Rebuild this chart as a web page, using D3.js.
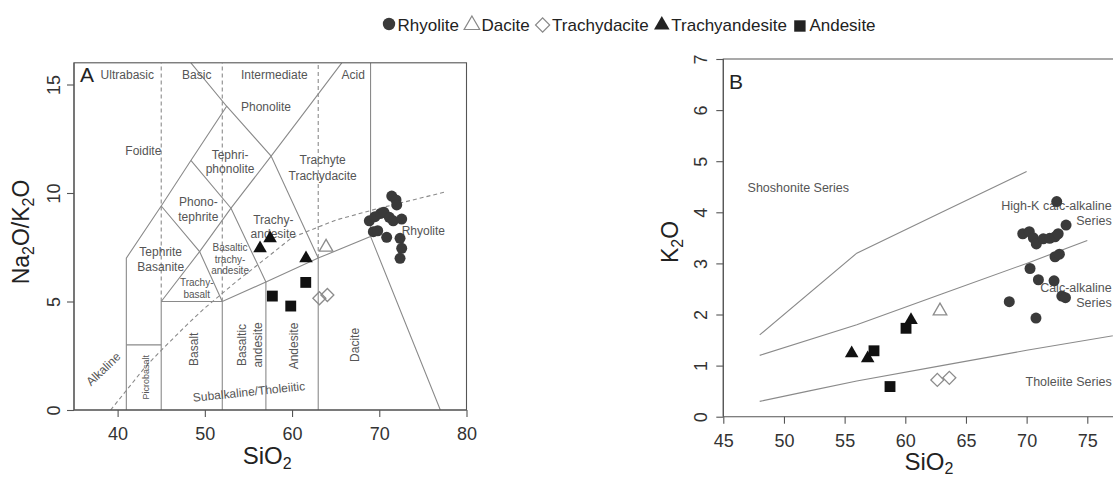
<!DOCTYPE html>
<html><head><meta charset="utf-8">
<script src="https://cdn.jsdelivr.net/npm/d3@7"></script>
<style>
body{margin:0;background:#fff;}
svg{display:block;font-family:"Liberation Sans",Arial,Helvetica,sans-serif;}
</style></head><body>
<svg id="chart" width="1113" height="478"></svg>
<script>
// ---------------- DATA ----------------
// Panel A (TAS-type diagram): [SiO2, Na2O/K2O]
const tasRhyolite = [[71.43,9.86],[71.92,9.68],[72.0,9.45],[68.86,8.72],[69.51,8.91],[70.16,9.06],[70.54,9.11],[71.15,8.88],[71.6,8.72],[72.57,8.8],[69.32,8.22],[69.82,8.26],[70.85,7.96],[72.38,7.91],[72.57,7.45],[72.38,6.99]];
const tasDacite = [[63.9,7.5]];
const tasTrachydacite = [[63.13,5.15],[64.05,5.3]];
const tasTrachyandesite = [[56.33,7.45],[57.48,7.91],[61.6,6.99]];
const tasAndesite = [[57.74,5.25],[59.85,4.79],[61.57,5.88]];

// Panel B (K2O vs SiO2): [SiO2, K2O]
const kRhyolite = [[72.48,4.21],[73.25,3.75],[69.68,3.58],[70.22,3.62],[70.55,3.5],[70.8,3.38],[71.37,3.48],[71.9,3.49],[72.34,3.52],[72.6,3.58],[72.34,3.13],[72.7,3.18],[70.28,2.9],[70.97,2.68],[72.26,2.66],[72.9,2.36],[73.2,2.33],[68.57,2.25],[70.77,1.93]];
const kDacite = [[62.86,2.07]];
const kTrachydacite = [[62.64,0.72],[63.63,0.76]];
const kTrachyandesite = [[55.58,1.24],[56.9,1.14],[60.47,1.89]];
const kAndesite = [[57.42,1.29],[60.06,1.73],[58.74,0.59]];

// Axis ticks
const tasXTicks = [40,50,60,70,80];
const tasYTicks = [0,5,10,15];
const kXTicks = [45,50,55,60,65,70,75];
const kYTicks = [0,1,2,3,4,5,6,7];

// TAS field boundaries (solid), [SiO2, value]
const tasSolid = [
  [[41,0],[41,7],[45,9.4],[48.4,11.5],[52.5,14],[48.4,16]],
  [[41,3],[45,3]],
  [[45,0],[45,5]],
  [[45,5],[52,5],[57,5.9],[63,7],[69,8],[77,0]],
  [[52,0],[52,5]],
  [[57,0],[57,5.9]],
  [[63,0],[63,7]],
  [[45,9.4],[49.4,7.3],[52,5]],
  [[45,5],[49.4,7.3],[53,9.3],[57.6,11.7],[61,13.5],[65.7,16]],
  [[48.4,11.5],[53,9.3],[57,5.9]],
  [[52.5,14],[57.6,11.7],[63,7]],
  [[69,8],[69,16]]
];
// TAS dashed lines
const tasDashed = [
  [[45,5],[45,16]],
  [[52,5],[52,16]],
  [[63,7],[63,16]],
  [[39.2,0],[40,0.4],[43.2,2],[45,2.75],[48,3.95],[50,4.7],[53.7,5.95],[55,6.35],[60,7.95],[65,8.75],[70,9.3],[77.6,10.05]]
];
// TAS labels: [text, SiO2, value, kind]
const tasLabels = [
  ["Ultrabasic",41.11,15.47,"field"],["Basic",49.07,15.47,"field"],["Intermediate",57.97,15.47,"field"],["Acid",67.02,15.47,"field"],
  ["Phonolite",57.01,13.95,"field"],["Foidite",42.95,11.95,"field"],
  ["Tephri-",52.89,11.75,"field"],["phonolite",52.89,11.12,"field"],
  ["Trachyte",63.51,11.52,"field"],["Trachydacite",63.51,10.8,"field"],
  ["Phono-",49.25,9.6,"field"],["tephrite",49.25,8.91,"field"],
  ["Trachy-",57.85,8.76,"field"],["andesite",57.85,8.1,"field"],
  ["Rhyolite",75.05,8.26,"field"],
  ["Tephrite",44.94,7.27,"field"],["Basanite",44.94,6.58,"field"],
  ["Basaltic",52.89,7.48,"small"],["trachy-",52.89,6.94,"small"],["andesite",52.89,6.41,"small"],
  ["Trachy-",49.07,5.88,"small"],["basalt",49.07,5.3,"small"],
  ["Picrobasalt",43.25,1.51,"vtiny"],["Basalt",48.68,2.8,"vert"],
  ["Basaltic",54.23,3.0,"vert"],["andesite",56.02,3.0,"vert"],
  ["Andesite",60.22,2.95,"vert"],["Dacite",67.22,3.0,"vert"],
  ["Alkaline",38.36,1.89,"diag"],["Subalkaline/Tholeiitic",55.06,0.84,"tilt"]
];
// K2O series boundaries
const kLines = [
  [[48,1.6],[56,3.2],[63,4.0],[70,4.8]],
  [[48,1.2],[56,1.8],[63,2.4],[70,3.0],[75,3.45]],
  [[48,0.3],[52,0.5],[56,0.7],[63,1.0],[70,1.3],[78.5,1.64]]
];
// K2O labels: [text, SiO2, K2O, anchor]
const kLabels = [
  ["Shoshonite Series",51.18,4.49,"middle"],
  ["High-K calc-alkaline",77.01,4.13,"end"],["Series",77.01,3.83,"end"],
  ["Calc-alkaline",77.01,2.52,"end"],["Series",77.01,2.23,"end"],
  ["Tholeiite Series",77.01,0.685,"end"]
];
const legendItems = [["Rhyolite","circle"],["Dacite","triOpen"],["Trachydacite","diamond"],["Trachyandesite","triFilled"],["Andesite","square"]];

// ---------------- DRAW ----------------
const svg = d3.select("#chart");
const LINE = "#8a8a8a", AXIS = "#555", LABEL = "#555", TICKTXT = "#333";

function marker(g, type, cx, cy){
  if(type==="circle"){
    return g.append("circle").attr("cx",cx).attr("cy",cy).attr("r",5.5).attr("fill","#3a3a3a");
  }
  let p;
  if(type==="triOpen"||type==="triFilled"){
    p = g.append("path").attr("d",d3.symbol(d3.symbolTriangle,80)()).attr("transform",`translate(${cx},${cy})`);
  } else if(type==="diamond"){
    p = g.append("path").attr("d",d3.symbol(d3.symbolSquare,84)()).attr("transform",`translate(${cx},${cy}) rotate(45)`);
  } else {
    p = g.append("path").attr("d",d3.symbol(d3.symbolSquare,118)()).attr("transform",`translate(${cx},${cy})`);
  }
  if(type==="triOpen"||type==="diamond") p.attr("fill","none").attr("stroke","#8c8c8c").attr("stroke-width",1.3);
  else p.attr("fill","#111");
  return p;
}

// ---- Panel A ----
const xA = d3.scaleLinear().domain([35,80]).range([74,466.5]);
const yA = d3.scaleLinear().domain([0,16]).range([410,62.8]);
const gA = svg.append("g");
svg.append("clipPath").attr("id","clipA").append("rect")
  .attr("x",xA(35)).attr("y",yA(16)).attr("width",xA(80)-xA(35)).attr("height",yA(0)-yA(16));
const pA = gA.append("g").attr("clip-path","url(#clipA)");
const lineA = d3.line().x(d=>xA(d[0])).y(d=>yA(d[1]));
pA.selectAll("path.s").data(tasSolid).join("path").attr("class","s").attr("d",lineA)
  .attr("fill","none").attr("stroke",LINE).attr("stroke-width",1.1);
pA.selectAll("path.d").data(tasDashed).join("path").attr("class","d").attr("d",lineA)
  .attr("fill","none").attr("stroke",LINE).attr("stroke-width",1.1).attr("stroke-dasharray","4,3");

const kindStyle = {field:{s:12,r:0},small:{s:10,r:0},vert:{s:12,r:-90},vtiny:{s:9,r:-90},diag:{s:12,r:-44},tilt:{s:12,r:-6}};
gA.selectAll("text.lab").data(tasLabels).join("text").attr("class","lab")
  .attr("transform",d=>`translate(${xA(d[1])},${yA(d[2])}) rotate(${kindStyle[d[3]].r})`)
  .attr("text-anchor","middle").attr("dy","0.35em")
  .attr("font-size",d=>kindStyle[d[3]].s).attr("fill",LABEL).text(d=>d[0]);

gA.append("rect").attr("x",xA(35)).attr("y",yA(16)).attr("width",xA(80)-xA(35)).attr("height",yA(0)-yA(16))
  .attr("fill","none").attr("stroke",AXIS).attr("stroke-width",1.1);

const fmt = d3.format("d");
function styleAxis(g, rotate, off){
  g.select(".domain").attr("stroke",AXIS).attr("stroke-width",1.1);
  g.selectAll(".tick line").attr("stroke",AXIS).attr("stroke-width",1.1);
  g.selectAll(".tick text").attr("fill",TICKTXT).attr("font-size",18).attr("font-family","Liberation Sans,Arial,sans-serif");
  if(rotate){
    g.selectAll(".tick text").attr("x",0).attr("y",-off).attr("dy",0).attr("text-anchor","middle").attr("transform","rotate(-90)");
  } else {
    g.selectAll(".tick text").attr("y",off).attr("dy",0);
  }
}
const axAx = gA.append("g").attr("transform",`translate(0,${yA(0)})`)
  .call(d3.axisBottom(xA).tickValues(tasXTicks).tickFormat(fmt).tickSize(7).tickSizeOuter(0));
styleAxis(axAx,false,30);
axAx.select(".domain").attr("d",`M${xA(35)},0H${xA(80)}`);
const ayAx = gA.append("g").attr("transform",`translate(${xA(35)},0)`)
  .call(d3.axisLeft(yA).tickValues(tasYTicks).tickFormat(fmt).tickSize(7).tickSizeOuter(0));
styleAxis(ayAx,true,14);
ayAx.select(".domain").attr("d",`M0,${yA(0)}V${yA(16)}`);

// markers A
[[tasRhyolite,"circle"],[tasDacite,"triOpen"],[tasTrachydacite,"diamond"],[tasTrachyandesite,"triFilled"],[tasAndesite,"square"]]
  .forEach(([arr,t])=>arr.forEach(d=>marker(gA,t,xA(d[0]),yA(d[1]))));

gA.append("text").attr("x",80).attr("y",82).attr("font-size",21).attr("fill","#222").text("A");
// axis titles A
const tA = gA.append("text").attr("x",xA(35)+ (xA(80)-xA(35))/2 - 3).attr("y",464).attr("text-anchor","middle").attr("font-size",24).attr("fill","#222");
tA.append("tspan").text("SiO");
tA.append("tspan").attr("font-size",16).attr("dy",5).text("2");
const tAy = gA.append("text").attr("transform","translate(28.5,232) rotate(-90)").attr("text-anchor","middle").attr("font-size",23).attr("fill","#222");
tAy.append("tspan").text("Na");
tAy.append("tspan").attr("font-size",16).attr("dy",5).text("2");
tAy.append("tspan").attr("dy",-5).text("O/K");
tAy.append("tspan").attr("font-size",16).attr("dy",5).text("2");
tAy.append("tspan").attr("dy",-5).text("O");

// ---- Panel B ----
const xB = d3.scaleLinear().domain([45,75]).range([723.3,1087.3]);
const yB = d3.scaleLinear().domain([0,7]).range([416.7,59]);
const gB = svg.append("g");
const lineB = d3.line().x(d=>xB(d[0])).y(d=>yB(d[1]));
gB.selectAll("path.k").data(kLines).join("path").attr("class","k").attr("d",lineB)
  .attr("fill","none").attr("stroke",LINE).attr("stroke-width",1.1);
gB.selectAll("text.lab").data(kLabels).join("text").attr("class","lab")
  .attr("x",d=>xB(d[1])).attr("y",d=>yB(d[2])).attr("dy","0.35em")
  .attr("text-anchor",d=>d[3]).attr("font-size",12.5).attr("fill",LABEL).text(d=>d[0]);
gB.append("path").attr("d",`M${xB(45)},${yB(0)}V${yB(7)}H${xB(80)}`).attr("fill","none").attr("stroke",AXIS).attr("stroke-width",1.1);
const bxAx = gB.append("g").attr("transform",`translate(0,${yB(0)})`)
  .call(d3.axisBottom(xB).tickValues(kXTicks).tickFormat(fmt).tickSize(7).tickSizeOuter(0));
styleAxis(bxAx,false,30);
bxAx.select(".domain").attr("d",`M${xB(45)},0H${xB(80)}`);
const byAx = gB.append("g").attr("transform",`translate(${xB(45)},0)`)
  .call(d3.axisLeft(yB).tickValues(kYTicks).tickFormat(fmt).tickSize(7).tickSizeOuter(0));
styleAxis(byAx,true,16.5);
byAx.select(".domain").attr("d",`M0,${yB(0)}V${yB(7)}`);

[[kRhyolite,"circle"],[kDacite,"triOpen"],[kTrachydacite,"diamond"],[kTrachyandesite,"triFilled"],[kAndesite,"square"]]
  .forEach(([arr,t])=>arr.forEach(d=>marker(gB,t,xB(d[0]),yB(d[1]))));

gB.append("text").attr("x",729).attr("y",89).attr("font-size",21).attr("fill","#222").text("B");
const tB = gB.append("text").attr("x",929).attr("y",470).attr("text-anchor","middle").attr("font-size",24).attr("fill","#222");
tB.append("tspan").text("SiO");
tB.append("tspan").attr("font-size",16).attr("dy",4).text("2");
const tBy = gB.append("text").attr("transform","translate(677.5,242) rotate(-90)").attr("text-anchor","middle").attr("font-size",23).attr("fill","#222");
tBy.append("tspan").text("K");
tBy.append("tspan").attr("font-size",16).attr("dy",5).text("2");
tBy.append("tspan").attr("dy",-5).text("O");

// ---- Legend ----
const gL = svg.append("g");
let lx = 383;
const ly = 25;
legendItems.forEach(([name,t],i)=>{
  const half = t==="circle"?6:7;
  const cx = lx + half;
  if(t==="circle") gL.append("circle").attr("cx",cx).attr("cy",ly-1).attr("r",6.2).attr("fill","#3a3a3a");
  else {
    const size = t==="square"?130:(t==="diamond"?100:105);
    const p = gL.append("path").attr("d",d3.symbol(t==="square"||t==="diamond"?d3.symbolSquare:d3.symbolTriangle,size)())
      .attr("transform",`translate(${cx},${ly+ (t==="square"?1:0)})${t==="diamond"?" rotate(45)":""}`);
    if(t==="triOpen"||t==="diamond") p.attr("fill","none").attr("stroke","#888").attr("stroke-width",1.2);
    else p.attr("fill","#222");
  }
  const tx = cx + half + 2.5;
  const txt = gL.append("text").attr("x",tx).attr("y",30.5).attr("font-size",17).attr("fill","#222").text(name);
  lx = tx + txt.node().getComputedTextLength() + 6;
});
</script>
</body></html>
